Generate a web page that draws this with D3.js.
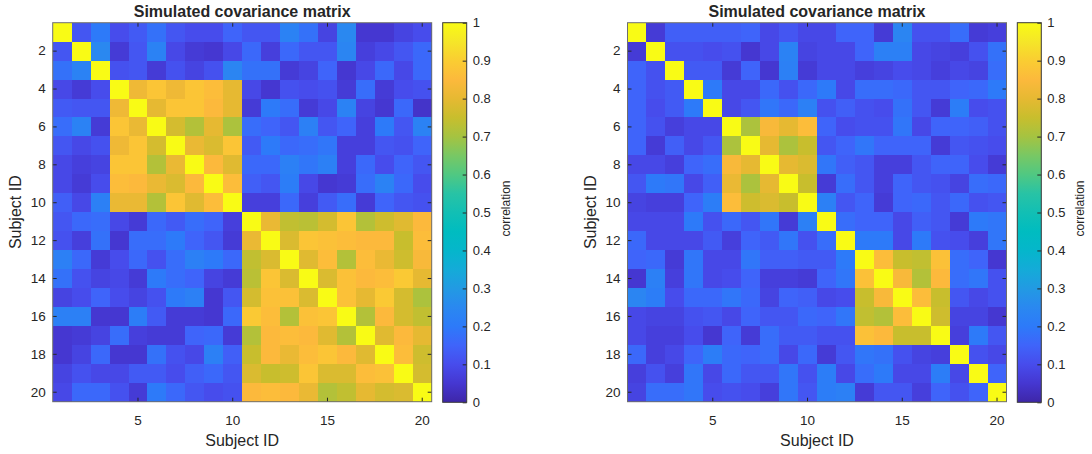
<!DOCTYPE html>
<html>
<head>
<meta charset="utf-8">
<script src="https://cdn.jsdelivr.net/npm/d3@7"></script>
<style>
  html, body { margin: 0; padding: 0; background: #ffffff; }
  svg { display: block; }
  text { font-family: "Liberation Sans", Arial, Helvetica, sans-serif; fill: #262626; }
</style>
</head>
<body>
<svg id="chart" width="1092" height="454"></svg>
<script>
// Subject identifiers and tick labels
const subjectIds = [1, 2, 3, 4, 5, 6, 7, 8, 9, 10, 11, 12, 13, 14, 15, 16, 17, 18, 19, 20];
const xTickLabels = [5, 10, 15, 20];
const yTickLabels = [2, 4, 6, 8, 10, 12, 14, 16, 18, 20];
const colorbarTicks = [0, 0.1, 0.2, 0.3, 0.4, 0.5, 0.6, 0.7, 0.8, 0.9, 1];

// Simulated correlation matrix: two large blocks (subjects 4-10 and 11-20)
const corrTwoBlocks = [
  [1.00,0.12,0.20,0.10,0.13,0.18,0.12,0.10,0.10,0.15,0.12,0.12,0.23,0.18,0.08,0.25,0.05,0.05,0.08,0.10],
  [0.12,1.00,0.25,0.06,0.12,0.23,0.09,0.06,0.05,0.09,0.16,0.07,0.16,0.12,0.12,0.24,0.07,0.09,0.12,0.16],
  [0.18,0.23,1.00,0.11,0.12,0.06,0.11,0.08,0.11,0.24,0.18,0.18,0.06,0.08,0.15,0.05,0.09,0.16,0.09,0.16],
  [0.09,0.06,0.10,1.00,0.82,0.88,0.82,0.88,0.86,0.80,0.09,0.05,0.11,0.10,0.11,0.06,0.17,0.06,0.10,0.11],
  [0.13,0.12,0.12,0.82,1.00,0.80,0.88,0.88,0.85,0.80,0.06,0.20,0.17,0.06,0.09,0.23,0.08,0.05,0.16,0.04],
  [0.17,0.23,0.06,0.88,0.81,1.00,0.77,0.72,0.80,0.71,0.17,0.15,0.12,0.22,0.12,0.15,0.07,0.20,0.12,0.23],
  [0.12,0.09,0.11,0.82,0.88,0.77,1.00,0.81,0.78,0.88,0.13,0.20,0.16,0.17,0.19,0.07,0.07,0.12,0.11,0.15],
  [0.09,0.07,0.08,0.88,0.88,0.72,0.81,1.00,0.85,0.79,0.16,0.16,0.22,0.19,0.22,0.07,0.16,0.10,0.15,0.12],
  [0.09,0.06,0.10,0.86,0.85,0.81,0.78,0.85,1.00,0.86,0.14,0.12,0.21,0.09,0.05,0.06,0.17,0.23,0.16,0.10],
  [0.14,0.09,0.22,0.81,0.81,0.72,0.88,0.79,0.86,1.00,0.07,0.07,0.16,0.07,0.13,0.17,0.06,0.15,0.12,0.11],
  [0.12,0.16,0.17,0.09,0.06,0.16,0.13,0.17,0.15,0.07,1.00,0.81,0.74,0.73,0.77,0.88,0.72,0.76,0.79,0.85],
  [0.11,0.07,0.18,0.05,0.17,0.17,0.20,0.15,0.12,0.06,0.81,1.00,0.78,0.88,0.87,0.86,0.85,0.85,0.75,0.86],
  [0.22,0.16,0.06,0.10,0.16,0.11,0.17,0.22,0.20,0.16,0.74,0.78,1.00,0.79,0.86,0.72,0.86,0.81,0.76,0.84],
  [0.18,0.11,0.08,0.09,0.06,0.20,0.17,0.15,0.08,0.06,0.73,0.88,0.78,1.00,0.78,0.87,0.85,0.86,0.89,0.80],
  [0.08,0.10,0.15,0.10,0.08,0.11,0.20,0.22,0.05,0.12,0.77,0.87,0.87,0.78,1.00,0.87,0.80,0.89,0.77,0.71],
  [0.22,0.22,0.05,0.05,0.21,0.13,0.06,0.06,0.05,0.16,0.89,0.86,0.72,0.87,0.88,1.00,0.72,0.85,0.77,0.74],
  [0.05,0.06,0.08,0.17,0.07,0.06,0.06,0.15,0.16,0.06,0.72,0.85,0.86,0.85,0.79,0.72,1.00,0.79,0.85,0.80],
  [0.05,0.08,0.16,0.05,0.05,0.18,0.11,0.09,0.22,0.14,0.75,0.85,0.81,0.86,0.88,0.85,0.79,1.00,0.86,0.76],
  [0.08,0.11,0.09,0.09,0.13,0.13,0.10,0.14,0.16,0.12,0.78,0.75,0.76,0.88,0.78,0.78,0.86,0.87,1.00,0.77],
  [0.09,0.16,0.16,0.11,0.06,0.20,0.16,0.12,0.10,0.11,0.85,0.86,0.85,0.81,0.72,0.74,0.80,0.77,0.78,1.00]
];

// Simulated correlation matrix: two small blocks (subjects 6-10 and 13-17)
const corrSmallBlocks = [
  [1.00,0.06,0.14,0.14,0.14,0.14,0.15,0.09,0.12,0.09,0.09,0.15,0.15,0.06,0.24,0.11,0.11,0.17,0.06,0.07],
  [0.06,1.00,0.11,0.11,0.10,0.11,0.05,0.09,0.23,0.08,0.09,0.09,0.15,0.22,0.22,0.09,0.08,0.07,0.11,0.18],
  [0.15,0.11,1.00,0.13,0.13,0.06,0.15,0.05,0.22,0.06,0.09,0.09,0.07,0.08,0.10,0.09,0.07,0.09,0.08,0.17],
  [0.15,0.11,0.13,1.00,0.20,0.09,0.09,0.16,0.11,0.16,0.20,0.09,0.17,0.17,0.16,0.12,0.12,0.15,0.16,0.20],
  [0.15,0.10,0.13,0.20,1.00,0.09,0.12,0.19,0.16,0.22,0.11,0.14,0.11,0.10,0.18,0.12,0.06,0.21,0.10,0.11],
  [0.15,0.11,0.07,0.09,0.09,1.00,0.71,0.84,0.80,0.86,0.15,0.10,0.11,0.11,0.19,0.09,0.15,0.15,0.14,0.11],
  [0.15,0.06,0.14,0.09,0.12,0.71,1.00,0.80,0.71,0.75,0.12,0.15,0.19,0.15,0.15,0.15,0.06,0.12,0.11,0.10],
  [0.09,0.09,0.07,0.15,0.17,0.84,0.80,1.00,0.80,0.78,0.19,0.14,0.12,0.07,0.07,0.12,0.15,0.15,0.10,0.06],
  [0.12,0.20,0.19,0.09,0.14,0.81,0.71,0.80,1.00,0.75,0.06,0.17,0.12,0.07,0.15,0.12,0.11,0.08,0.17,0.16],
  [0.08,0.07,0.07,0.15,0.21,0.86,0.76,0.78,0.75,1.00,0.22,0.12,0.15,0.06,0.15,0.16,0.12,0.16,0.11,0.12],
  [0.09,0.09,0.09,0.20,0.11,0.16,0.12,0.19,0.06,0.22,1.00,0.17,0.15,0.15,0.09,0.14,0.12,0.06,0.20,0.19],
  [0.16,0.09,0.09,0.09,0.13,0.07,0.15,0.13,0.19,0.11,0.17,1.00,0.20,0.20,0.09,0.20,0.11,0.10,0.07,0.19],
  [0.15,0.16,0.06,0.19,0.09,0.09,0.19,0.14,0.14,0.13,0.13,0.20,1.00,0.86,0.75,0.74,0.87,0.17,0.15,0.05],
  [0.05,0.22,0.07,0.19,0.09,0.10,0.15,0.07,0.07,0.06,0.15,0.19,0.87,1.00,0.84,0.72,0.85,0.17,0.19,0.11],
  [0.24,0.21,0.10,0.16,0.16,0.19,0.16,0.08,0.15,0.14,0.09,0.10,0.75,0.84,1.00,0.86,0.75,0.12,0.09,0.11],
  [0.09,0.08,0.08,0.11,0.12,0.09,0.15,0.12,0.12,0.16,0.15,0.19,0.74,0.72,0.86,1.00,0.76,0.08,0.08,0.05],
  [0.09,0.07,0.07,0.10,0.05,0.15,0.06,0.17,0.13,0.13,0.11,0.11,0.87,0.85,0.75,0.75,1.00,0.07,0.20,0.12],
  [0.16,0.07,0.09,0.15,0.21,0.16,0.15,0.17,0.09,0.16,0.06,0.12,0.19,0.18,0.11,0.08,0.07,1.00,0.11,0.09],
  [0.07,0.11,0.07,0.19,0.09,0.16,0.12,0.12,0.19,0.11,0.21,0.09,0.17,0.20,0.09,0.09,0.21,0.09,1.00,0.15],
  [0.08,0.17,0.17,0.19,0.10,0.11,0.10,0.07,0.19,0.12,0.21,0.22,0.06,0.12,0.12,0.07,0.15,0.11,0.15,1.00]
];

// Parula-style colormap control points
const parulaStops = [
  [0.00, "#3e26a8"], [0.05, "#4537d1"], [0.10, "#474cec"], [0.15, "#3f64fa"],
  [0.20, "#2d7af9"], [0.25, "#2a88f0"], [0.30, "#229ae3"], [0.35, "#14abd8"],
  [0.40, "#05b6cb"], [0.45, "#00bcc0"], [0.50, "#12bfb4"], [0.55, "#28c3a5"],
  [0.60, "#50c882"], [0.65, "#78c864"], [0.70, "#a5c341"], [0.75, "#c8be2d"],
  [0.80, "#e6b932"], [0.85, "#fcb93c"], [0.90, "#facd32"], [0.95, "#f5e628"],
  [1.00, "#f9fb15"]
];

const color = d3.scaleLinear()
  .domain(parulaStops.map(d => d[0]))
  .range(parulaStops.map(d => d[1]))
  .interpolate(d3.interpolateRgb)
  .clamp(true);

const svg = d3.select("#chart");
const defs = svg.append("defs");

const grad = defs.append("linearGradient")
  .attr("id", "parulaGrad")
  .attr("x1", 0).attr("y1", 1).attr("x2", 0).attr("y2", 0);
grad.selectAll("stop")
  .data(parulaStops)
  .join("stop")
  .attr("offset", d => (d[0] * 100) + "%")
  .attr("stop-color", d => d[1]);

const AX_TOP = 22.7, AX_BOTTOM = 401.7;

const panels = [
  { matrix: corrTwoBlocks,   left: 52.7,  right: 431.7,  cbLeft: 442.7,  cbWidth: 24, yLabelX: 20.5 },
  { matrix: corrSmallBlocks, left: 627.5, right: 1006.5, cbLeft: 1017.3, cbWidth: 24, yLabelX: 595.5 }
];

const inkColor = "#262626";

panels.forEach(p => {
  const x = d3.scaleBand().domain(subjectIds).range([p.left, p.right]).padding(0);
  const y = d3.scaleBand().domain(subjectIds).range([AX_TOP, AX_BOTTOM]).padding(0);

  const cells = [];
  p.matrix.forEach((row, i) => row.forEach((v, j) => cells.push({ r: subjectIds[i], c: subjectIds[j], v })));

  const g = svg.append("g");

  g.append("g")
    .attr("shape-rendering", "crispEdges")
    .selectAll("rect")
    .data(cells)
    .join("rect")
    .attr("x", d => x(d.c))
    .attr("y", d => y(d.r))
    .attr("width", x.bandwidth() + 0.4)
    .attr("height", y.bandwidth() + 0.4)
    .attr("fill", d => color(d.v));

  // Axes with inward ticks on all four sides
  const styleAxis = sel => {
    sel.select(".domain").remove();
    sel.selectAll(".tick line").attr("stroke", inkColor).attr("stroke-width", 1);
    sel.selectAll(".tick text")
      .attr("fill", inkColor)
      .style("font-size", "13.5px")
      .style("font-family", "\"Liberation Sans\", Arial, Helvetica, sans-serif");
  };

  g.append("g")
    .attr("transform", `translate(0,${AX_BOTTOM})`)
    .call(d3.axisBottom(x).tickValues(xTickLabels).tickSize(-4).tickPadding(13.5))
    .call(styleAxis);

  g.append("g")
    .attr("transform", `translate(0,${AX_TOP})`)
    .call(d3.axisTop(x).tickValues(xTickLabels).tickSize(-4).tickFormat(""))
    .call(styleAxis);

  g.append("g")
    .attr("transform", `translate(${p.left},0)`)
    .call(d3.axisLeft(y).tickValues(yTickLabels).tickSize(-4).tickPadding(7))
    .call(styleAxis);

  g.append("g")
    .attr("transform", `translate(${p.right},0)`)
    .call(d3.axisRight(y).tickValues(yTickLabels).tickSize(-4).tickFormat(""))
    .call(styleAxis);

  // Axes box
  g.append("rect")
    .attr("x", p.left).attr("y", AX_TOP)
    .attr("width", p.right - p.left).attr("height", AX_BOTTOM - AX_TOP)
    .attr("fill", "none")
    .attr("stroke", "#6e6e6e")
    .attr("stroke-width", 1);

  // Title
  g.append("text")
    .attr("x", (p.left + p.right) / 2)
    .attr("y", 16.5)
    .attr("text-anchor", "middle")
    .style("font-size", "16px")
    .style("font-weight", "bold")
    .attr("fill", "#000")
    .text("Simulated covariance matrix");

  // Axis labels
  g.append("text")
    .attr("x", (p.left + p.right) / 2)
    .attr("y", 445.5)
    .attr("text-anchor", "middle")
    .style("font-size", "16px")
    .text("Subject ID");

  g.append("text")
    .attr("transform", `translate(${p.yLabelX},${(AX_TOP + AX_BOTTOM) / 2}) rotate(-90)`)
    .attr("text-anchor", "middle")
    .style("font-size", "16px")
    .text("Subject ID");

  // Colorbar
  const cb = d3.scaleLinear().domain([0, 1]).range([402.3, AX_TOP]);
  const cbG = svg.append("g");
  cbG.append("rect")
    .attr("x", p.cbLeft).attr("y", AX_TOP)
    .attr("width", p.cbWidth).attr("height", 402.3 - AX_TOP)
    .attr("fill", "url(#parulaGrad)");

  cbG.append("g")
    .attr("transform", `translate(${p.cbLeft + p.cbWidth},0)`)
    .call(d3.axisRight(cb).tickValues(colorbarTicks).tickSize(-4).tickPadding(6).tickFormat(d3.format("")))
    .call(sel => {
      sel.select(".domain").remove();
      sel.selectAll(".tick line").attr("stroke", inkColor);
      sel.selectAll(".tick text")
        .attr("fill", inkColor)
        .style("font-size", "13px")
        .style("font-family", "\"Liberation Sans\", Arial, Helvetica, sans-serif");
    });

  cbG.append("rect")
    .attr("x", p.cbLeft).attr("y", AX_TOP)
    .attr("width", p.cbWidth).attr("height", 402.3 - AX_TOP)
    .attr("fill", "none")
    .attr("stroke", "#3a3a3a")
    .attr("stroke-width", 1);

  cbG.append("text")
    .attr("transform", `translate(${p.cbLeft + p.cbWidth + 43},${(AX_TOP + 402.3) / 2 - 4}) rotate(-90)`)
    .attr("text-anchor", "middle")
    .style("font-size", "12px")
    .text("correlation");
});
</script>
</body>
</html>
